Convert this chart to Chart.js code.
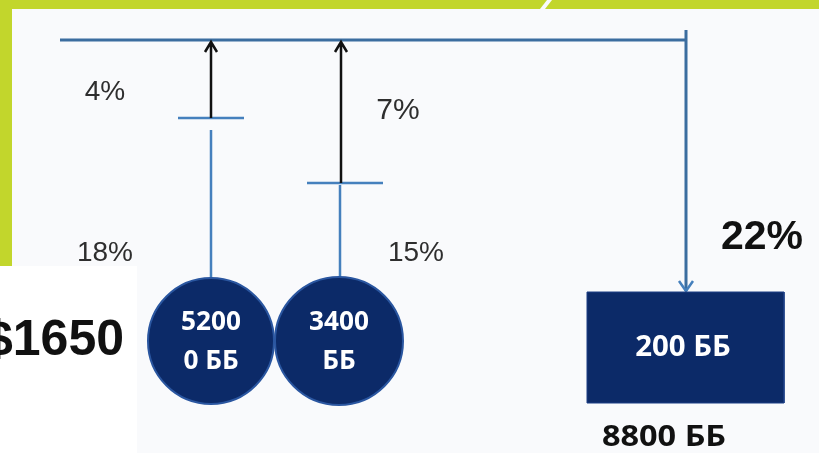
<!DOCTYPE html>
<html>
<head>
<meta charset="utf-8">
<script src="https://cdn.jsdelivr.net/npm/chart.js@4"></script>
<style>
  html, body { margin: 0; padding: 0; background: #ffffff; }
  canvas { display: block; }
</style>
</head>
<body>
<canvas id="diagram" width="819" height="453"></canvas>
<script>
// values shown on the diagram
const percentLabels = ["4%", "18%", "7%", "15%", "22%"];
const nodeLabels = [["5200", "0 ББ"], ["3400", "ББ"]];
const boxLabel = "200 ББ";
const totalLabel = "8800 ББ";
const sumLabel = "$1650";

// layout (diagram coordinates, same units as the canvas)
const percentX = [105, 105, 398, 416, 762];
const percentY = [92, 253, 111, 253, 238];
const nodeX = [211, 339];
const nodeY = [341, 341];
const nodeR = [63, 64];
const capY = [118, 183];
const busY = 40;
const boxLeft = 587, boxRight = 784, boxTop = 292, boxBottom = 403;
const dropX = 686;

const BLUE = "#4580bd";
const NAVY = "#0c2a68";

function seg(points) {
  // points is a list of [x, y] pairs, null splits segments
  return points.map(p => (p ? { x: p[0], y: p[1] } : { x: null, y: null }));
}

const busLine = seg([[60, busY], [dropX, busY], null, [dropX, busY - 10], [dropX, boxTop - 1]]);
const stemLines = seg([
  [nodeX[0] - 33, capY[0]], [nodeX[0] + 33, capY[0]], null,
  [nodeX[0], capY[0] + 12], [nodeX[0], nodeY[0] - nodeR[0]], null,
  [nodeX[1] - 32, capY[1]], [nodeX[1] + 44, capY[1]], null,
  [nodeX[1] + 1, capY[1] + 2], [nodeX[1] + 1, nodeY[1] - nodeR[1]], null,
  [dropX - 7, boxTop - 11], [dropX, boxTop - 1], [dropX + 7, boxTop - 11]
]);
const arrowLines = seg([
  [nodeX[0], capY[0]], [nodeX[0], busY + 2], null,
  [nodeX[0] - 6, busY + 12], [nodeX[0], busY + 2], [nodeX[0] + 6, busY + 12], null,
  [nodeX[1] + 2, capY[1]], [nodeX[1] + 2, busY + 2], null,
  [nodeX[1] - 4, busY + 12], [nodeX[1] + 2, busY + 2], [nodeX[1] + 8, busY + 12]
]);
const boxShape = seg([
  [boxLeft, boxTop], [boxRight, boxTop], [boxRight, boxBottom], [boxLeft, boxBottom], [boxLeft, boxTop]
]);

function drawText(c, text, x, y, font, scaleX) {
  c.save();
  c.translate(x, y);
  c.scale(scaleX || 1, 1);
  c.font = font;
  c.fillText(text, 0, 0);
  c.restore();
}

const backdrop = {
  id: "backdrop",
  beforeDraw(chart) {
    const c = chart.ctx;
    c.save();
    c.fillStyle = "#c2d62c";
    c.fillRect(0, 0, 819, 453);
    c.fillStyle = "#f9fafc";
    c.fillRect(12, 9, 807, 444);
    // white slash in the top band
    c.beginPath();
    c.moveTo(540, 9); c.lineTo(547, 0); c.lineTo(552, 0); c.lineTo(545, 9);
    c.closePath(); c.fill();
    c.restore();
  }
};

const labelsPlugin = {
  id: "labels",
  afterDraw(chart) {
    const c = chart.ctx;
    const sx = chart.scales.x, sy = chart.scales.y;
    const px = v => sx.getPixelForValue(v);
    const py = v => sy.getPixelForValue(v);
    c.save();
    c.textAlign = "center";
    c.textBaseline = "middle";

    percentLabels.forEach((t, i) => {
      const big = i === percentLabels.length - 1;
      c.fillStyle = big ? "#111" : "#2e2e2e";
      const font = big ? "bold 41px 'Liberation Sans'" : (i === 2 ? "30px 'Liberation Sans'" : "28px 'Liberation Sans'");
      drawText(c, t, px(percentX[i]), py(percentY[i]), font, 1);
    });

    c.fillStyle = "#ffffff";
    nodeLabels.forEach((lines, i) => {
      drawText(c, lines[0], px(nodeX[i]), py(322), "bold 27px 'Open Sans'", 0.97);
      drawText(c, lines[1], px(nodeX[i]), py(361), "bold 27px 'Open Sans'", 0.97);
    });
    drawText(c, boxLabel, px(683), py(348), "bold 28px 'Open Sans'", 1.05);

    c.fillStyle = "#111";
    drawText(c, totalLabel, px(664), py(438), "bold 29px 'Open Sans'", 1.12);

    // white card on the lower left
    c.fillStyle = "#ffffff";
    c.fillRect(0, 266, 137, 187);
    c.fillStyle = "#111";
    c.textAlign = "right";
    drawText(c, sumLabel, px(124), py(341), "bold 50px 'Liberation Sans'", 1);
    c.restore();
  }
};

new Chart(document.getElementById("diagram"), {
  type: "scatter",
  data: {
    datasets: [
      {
        type: "line", data: boxShape, fill: "shape", backgroundColor: NAVY,
        borderColor: "#1d3f85", borderWidth: 1, pointRadius: 0, spanGaps: false, order: 1
      },
      {
        type: "bubble",
        data: nodeX.map((x, i) => ({ x: x, y: nodeY[i], r: nodeR[i] })),
        backgroundColor: NAVY, borderColor: "#2a56a0", borderWidth: 2, order: 2
      },
      {
        type: "line", data: arrowLines, borderColor: "#111", borderWidth: 2.5,
        pointRadius: 0, spanGaps: false, order: 3
      },
      {
        type: "line", data: stemLines, borderColor: BLUE, borderWidth: 2.5,
        pointRadius: 0, spanGaps: false, order: 4
      },
      {
        type: "line", data: busLine, borderColor: "#3b6d9f", borderWidth: 3,
        pointRadius: 0, spanGaps: false, order: 5
      }
    ]
  },
  options: {
    responsive: false,
    animation: false,
    layout: { padding: 0, autoPadding: false },
    plugins: { legend: { display: false }, tooltip: { enabled: false } },
    scales: {
      x: { type: "linear", min: 0, max: 819, display: false },
      y: { type: "linear", min: 0, max: 453, reverse: true, display: false }
    }
  },
  plugins: [backdrop, labelsPlugin]
});
</script>
</body>
</html>
